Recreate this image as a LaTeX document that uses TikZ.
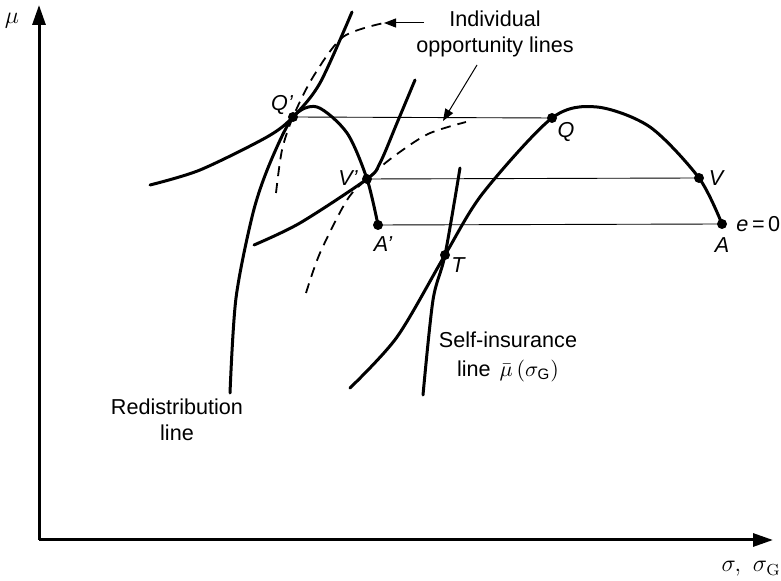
\documentclass[tikz,border=0pt]{standalone}
\usepackage{fontspec}
\setsansfont{Liberation Sans}
\usetikzlibrary{arrows.meta}

\tikzset{
  curve/.style={line width=1.5pt, line cap=round},
  opp/.style={line width=0.9pt, dash pattern=on 5pt off 3.5pt},
  level/.style={line width=0.45pt},
  ptlabel/.style={font=\fontsize{10.8}{13}\selectfont\sffamily\itshape, inner sep=0pt},
  txt/.style={font=\fontsize{10.8}{13}\selectfont\sffamily, align=center, inner sep=0pt},
  axlabel/.style={font=\fontsize{12}{14}\selectfont, inner sep=0pt},
  pointer/.style={line width=0.5pt, -{Triangle[length=6pt,width=4.5pt]}},
}

\begin{document}
\begin{tikzpicture}[x=0.5pt, y=-0.5pt]
    \useasboundingbox (0,0) rectangle (781,581);

    % Axes
    \coordinate (O) at (39,540);
    \coordinate (ytop) at (39,5);
    \coordinate (xend) at (773,540);
    \draw[line width=1.5pt, -{Triangle[length=10pt,width=6.5pt]}] (O) -- (ytop);
    \draw[line width=1.5pt, -{Triangle[length=10pt,width=6.5pt]}] (O) -- (xend);
    \node[axlabel] (mu) at (12,21) {$\mu$};
    \node[axlabel, anchor=east] (sig) at (781,569) {$\sigma,\ \sigma_{\mathrm{G}}$};

    % Points
    \coordinate (Qp) at (293,117);
    \coordinate (Vp) at (367,179);
    \coordinate (Ap) at (378,225);
    \coordinate (Q) at (552,118);
    \coordinate (V) at (699,178);
    \coordinate (A) at (722,224);
    \coordinate (T) at (445,255);

    % Levels
    \draw[level] (Qp) -- (Q);
    \draw[level] (Vp) -- (V);
    \draw[level] (Ap) -- (A);

    % Redistribution line
    \draw[curve] plot[smooth] coordinates {(230,393) (236,298) (253,213) (270,163) (Qp)
        (317,107) (347,133) (Vp) (Ap)};

    % Self-insurance line
    \draw[curve] plot[smooth] coordinates {(350,388) (397,337) (T) (483,193)
        (Q) (597,107) (650,127) (V) (A)};

    % Indifference curves
    \draw[curve] plot[smooth] coordinates {(150,185) (200,170) (267,137) (Qp) (320,83) (352,12)};
    \draw[curve] plot[smooth] coordinates {(254,245) (300,223) (Vp) (380,163) (397,123) (415,80)};
    \draw[curve] plot[smooth] coordinates {(423,395) (433,300) (T) (460,168)};

    % Individual opportunity lines
    \coordinate (d1) at (384,23);
    \coordinate (d2) at (466,122);
    \draw[opp] plot[smooth] coordinates {(276,193) (282,150) (Qp) (313,77) (343,37) (d1)};
    \draw[opp] plot[smooth] coordinates {(306,293) (320,253) (347,200) (Vp) (393,157)
        (428,134) (d2)};

    % Dots
    \foreach \p in {Qp,Vp,Ap,Q,V,A,T}
        \fill (\p) circle (2.5pt);

    % Labels
    \node[ptlabel] (lQp) at (282,105) {Q'};
    \node[ptlabel] (lVp) at (348,178) {V'};
    \node[ptlabel] (lAp) at (383,244) {A'};
    \node[ptlabel] (lQ) at (566,132) {Q};
    \node[ptlabel] (lV) at (716,178) {V};
    \node[ptlabel] (lA) at (722,245) {A};
    \node[ptlabel] (lT) at (458,265) {T};
    \node[ptlabel, anchor=west] (le) at (736,224) {e\,\upshape=\,0};

    \node[txt] (opplbl) at (495,34) {Individual\\opportunity lines};
    \node[txt] (redlbl) at (177,420) {Redistribution\\line};
    \node[txt] (selflbl) at (508,357) {Self-insurance\\[1.5pt]line\hspace{1.5pt} $\bar{\mu}\,(\sigma_{\mathsf{G}})$};

    % Pointers
    \coordinate (a1) at (424,23);
    \coordinate (a2) at (477,65);
    \draw[pointer] (a1) -- (d1);
    \draw[pointer] (a2) -- (443,121);
\end{tikzpicture}
\end{document}
